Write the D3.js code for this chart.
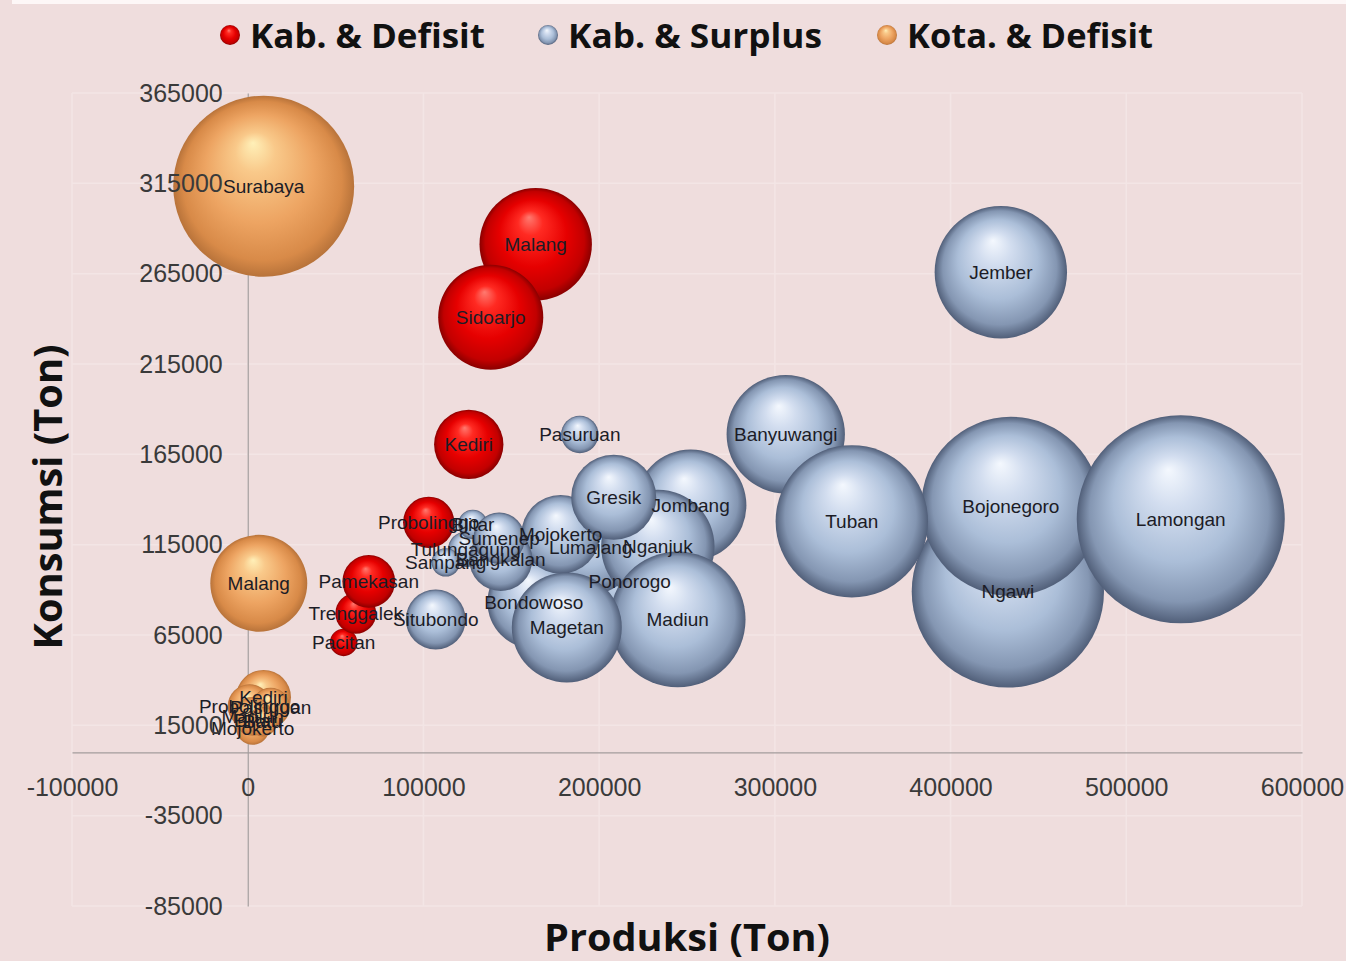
<!DOCTYPE html>
<html>
<head>
<meta charset="utf-8">
<script src="https://cdn.jsdelivr.net/npm/d3@7"></script>
<style>
    body { margin: 0; background: #efdddd; }
    svg { display: block; }
</style>
</head>
<body>
<script>
// DATA (production x, consumption y, bubble size)
var defNames = ["Pacitan", "Trenggalek", "Kediri", "Malang", "Probolinggo", "Sidoarjo", "Pamekasan"];
var defProd = [54600, 61500, 125800, 163900, 103000, 138300, 68900];
var defCons = [60900, 77000, 170500, 281300, 127400, 240900, 94700];
var defSize = [7000, 15500, 44700, 117400, 24400, 102600, 25800];

var surNames = ["Ponorogo", "Tulungagung", "Blitar", "Lumajang", "Jember", "Banyuwangi", "Bondowoso",
    "Situbondo", "Pasuruan", "Mojokerto", "Jombang", "Nganjuk", "Madiun", "Magetan", "Ngawi",
    "Bojonegoro", "Tuban", "Lamongan", "Gresik", "Bangkalan", "Sampang", "Sumenep"];
var surProd = [217400, 124100, 128100, 195200, 428600, 306200, 162800,
    107000, 189000, 178100, 252100, 233400, 244700, 181600, 432600,
    434300, 343800, 531000, 208300, 144000, 112700, 143100];
var surCons = [94700, 112400, 126200, 113500, 265800, 176100, 83100,
    73600, 176000, 120700, 136800, 114000, 73600, 69200, 89100,
    136200, 127900, 129000, 141200, 106900, 105200, 118500];
var surSize = [122700, 11700, 8000, 81700, 162800, 130100, 79700,
    33400, 13000, 57400, 115300, 119400, 171100, 112400, 343500,
    298100, 215900, 402000, 67100, 37100, 7500, 24600];

var kotaNames = ["Kediri", "Blitar", "Malang", "Probolinggo", "Pasuruan", "Mojokerto", "Madiun", "Surabaya", "Batu"];
var kotaProd = [9000, 4500, 6300, 1100, 13000, 2800, 2800, 9100, 8500];
var kotaCons = [30500, 18000, 93600, 25500, 25000, 13300, 20000, 313400, 17000];
var kotaSize = [28000, 12000, 87300, 18000, 14000, 10000, 14000, 304000, 8000];

var seriesNames = ["Kab. & Defisit", "Kab. & Surplus", "Kota. & Defisit"];
var xTicks = [-100000, 0, 100000, 200000, 300000, 400000, 500000, 600000];
var yTicks = [-85000, -35000, 15000, 65000, 115000, 165000, 215000, 265000, 315000, 365000];

function main() {
    var width = 1346,
        height = 961;

    var svg = d3.select("body")
        .append("svg")
        .attr("width", width)
        .attr("height", height);

    // background + white strip at the very top
    svg.append("rect").attr("width", width).attr("height", height).attr("fill", "#efdddd");
    svg.append("rect").attr("x", 12).attr("y", 0).attr("width", width - 12).attr("height", 4).attr("fill", "#fdf7f7");

    makeGradients(svg);

    // scales
    var x = d3.scaleLinear().domain([-100000, 600000]).range([72, 1302]);
    var y = d3.scaleLinear().domain([-85000, 365000]).range([906, 93]);
    var r = d3.scaleSqrt().domain([0, 402000]).range([0, 104]);

    // faint gridlines
    svg.append("g").selectAll("line.vg")
        .data(xTicks).enter().append("line")
        .attr("x1", d => x(d)).attr("x2", d => x(d))
        .attr("y1", y(365000)).attr("y2", y(-85000))
        .attr("stroke", "#f3e5e5").attr("stroke-width", 1.5);
    svg.append("g").selectAll("line.hg")
        .data(yTicks).enter().append("line")
        .attr("x1", x(-100000)).attr("x2", x(600000))
        .attr("y1", d => y(d)).attr("y2", d => y(d))
        .attr("stroke", "#f3e5e5").attr("stroke-width", 1.5);

    var fmt = d => String(d);
    var xAxisGen = d3.axisBottom(x).tickValues(xTicks).tickSize(0).tickPadding(26).tickFormat(fmt);
    var yAxisGen = d3.axisLeft(y).tickValues(yTicks).tickSize(0).tickPadding(25).tickFormat(fmt);

    // axis lines under the bubbles
    var xLine = svg.append("g").attr("transform", "translate(0," + y(0) + ")").call(xAxisGen);
    var yLine = svg.append("g").attr("transform", "translate(" + x(0) + ",0)").call(yAxisGen);
    [xLine, yLine].forEach(function (g) {
        g.select(".domain").attr("stroke", "#a39c9c").attr("stroke-width", 1.2);
        g.selectAll(".tick").remove();
    });

    // bubbles (surplus first, then deficit, then kota)
    var groups = [
        { names: surNames, px: surProd, py: surCons, s: surSize, grad: "gBlue" },
        { names: defNames, px: defProd, py: defCons, s: defSize, grad: "gRed" },
        { names: kotaNames, px: kotaProd, py: kotaCons, s: kotaSize, grad: "gOrange" }
    ];

    var bubbleLayer = svg.append("g");
    var labelLayer = svg.append("g");

    groups.forEach(function (grp) {
        var pts = grp.names.map(function (n, i) {
            return { name: n, px: grp.px[i], py: grp.py[i], s: grp.s[i] };
        });
        bubbleLayer.append("g").selectAll("circle")
            .data(pts).enter().append("circle")
            .attr("cx", d => x(d.px))
            .attr("cy", d => y(d.py))
            .attr("r", d => r(d.s))
            .attr("fill", "url(#" + grp.grad + ")");
        labelLayer.append("g").selectAll("text")
            .data(pts).enter().append("text")
            .attr("x", d => x(d.px))
            .attr("y", d => y(d.py))
            .attr("dy", "0.35em")
            .attr("text-anchor", "middle")
            .attr("font-family", "Liberation Sans, Arial, sans-serif")
            .attr("font-size", 19)
            .attr("fill", "#1c1c26")
            .text(d => d.name);
    });

    // tick labels drawn above the bubbles
    var xText = svg.append("g").attr("transform", "translate(0," + y(0) + ")").call(xAxisGen);
    var yText = svg.append("g").attr("transform", "translate(" + x(0) + ",0)").call(yAxisGen);
    [xText, yText].forEach(function (g) {
        g.select(".domain").remove();
        g.selectAll("text")
            .attr("font-family", "Liberation Sans, Arial, sans-serif")
            .attr("font-size", 25)
            .attr("fill", "#3a3a3a");
    });

    // legend
    var legX = [230, 548, 887];
    var legLen = [235, 254, 246];
    var legGrad = ["gRed", "gBlue", "gOrange"];
    var legend = svg.append("g");
    seriesNames.forEach(function (n, i) {
        legend.append("circle")
            .attr("cx", legX[i]).attr("cy", 35).attr("r", 10)
            .attr("fill", "url(#" + legGrad[i] + ")");
        legend.append("text")
            .attr("x", legX[i] + 20).attr("y", 48)
            .attr("font-family", "Open Sans, sans-serif")
            .attr("font-weight", 700)
            .attr("font-size", 34)
            .attr("textLength", legLen[i])
            .attr("lengthAdjust", "spacingAndGlyphs")
            .attr("fill", "#111")
            .text(n);
    });

    // axis titles
    svg.append("text")
        .attr("x", 687).attr("y", 951)
        .attr("text-anchor", "middle")
        .attr("font-family", "Open Sans, sans-serif")
        .attr("font-weight", 700)
        .attr("font-size", 38)
        .attr("textLength", 286)
        .attr("lengthAdjust", "spacingAndGlyphs")
        .attr("fill", "#111")
        .text("Produksi (Ton)");
    svg.append("text")
        .attr("transform", "translate(62,497) rotate(-90)")
        .attr("text-anchor", "middle")
        .attr("font-family", "Open Sans, sans-serif")
        .attr("font-weight", 700)
        .attr("font-size", 40)
        .attr("textLength", 305)
        .attr("lengthAdjust", "spacingAndGlyphs")
        .attr("fill", "#111")
        .text("Konsumsi (Ton)");
}

function makeGradients(svg) {
    var defs = svg.append("defs");
    var specs = {
        gRed: [["0%", "#ff7a70"], ["22%", "#ff2a22"], ["60%", "#e60000"], ["88%", "#c20000"], ["100%", "#8a0000"]],
        gBlue: [["0%", "#f4f8fe"], ["25%", "#d2ddef"], ["60%", "#abbed8"], ["86%", "#8496b2"], ["100%", "#515f79"]],
        gOrange: [["0%", "#fff0b8"], ["22%", "#f9c98a"], ["60%", "#eda462"], ["88%", "#d88a48"], ["100%", "#b8733a"]]
    };
    Object.keys(specs).forEach(function (id) {
        var g = defs.append("radialGradient")
            .attr("id", id)
            .attr("cx", "50%").attr("cy", "50%").attr("r", "50%")
            .attr("fx", "44%").attr("fy", "26%");
        specs[id].forEach(function (s) {
            g.append("stop").attr("offset", s[0]).attr("stop-color", s[1]);
        });
    });
}

window.onload = main;
</script>
</body>
</html>
